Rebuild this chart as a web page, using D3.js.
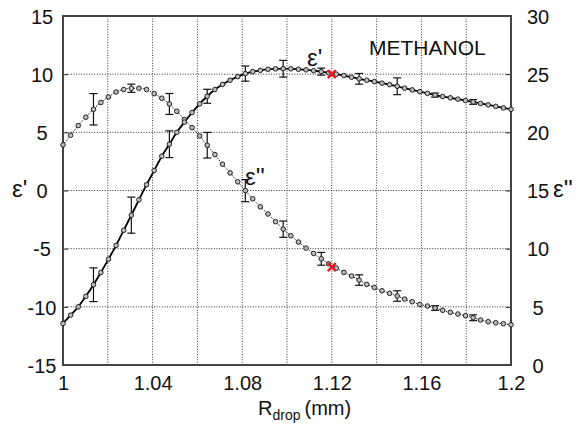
<!DOCTYPE html>
<html>
<head>
<meta charset="utf-8">
<script src="https://cdn.jsdelivr.net/npm/d3@7"></script>
<style>
  html, body { margin: 0; padding: 0; background: #fff; }
  svg { display: block; }
  text { font-family: "Liberation Sans", Arial, sans-serif; fill: #111; }
</style>
</head>
<body>
<svg id="chart" width="580" height="427"></svg>
<script>
// R_drop (mm), 60 puntos equiespaciados
const rDrop = [1.0000, 1.0034, 1.0068, 1.0102, 1.0136, 1.0169, 1.0203, 1.0237, 1.0271, 1.0305,
  1.0339, 1.0373, 1.0407, 1.0441, 1.0475, 1.0508, 1.0542, 1.0576, 1.0610, 1.0644,
  1.0678, 1.0712, 1.0746, 1.0780, 1.0814, 1.0847, 1.0881, 1.0915, 1.0949, 1.0983,
  1.1017, 1.1051, 1.1085, 1.1119, 1.1153, 1.1186, 1.1220, 1.1254, 1.1288, 1.1322,
  1.1356, 1.1390, 1.1424, 1.1458, 1.1492, 1.1525, 1.1559, 1.1593, 1.1627, 1.1661,
  1.1695, 1.1729, 1.1763, 1.1797, 1.1831, 1.1864, 1.1898, 1.1932, 1.1966, 1.2000];

// ε' (eje izquierdo)
const epsReal = [-11.43, -10.71, -10.0, -9.1, -8.1, -7.05, -5.9, -4.72, -3.42, -2.12,
  -0.8, 0.5, 1.72, 2.95, 3.98, 5.0, 5.88, 6.7, 7.45, 8.1,
  8.68, 9.12, 9.48, 9.79, 10.05, 10.22, 10.33, 10.42, 10.46, 10.47,
  10.46, 10.42, 10.37, 10.3, 10.22, 10.12, 10.0, 9.88, 9.74, 9.6,
  9.48, 9.36, 9.23, 9.1, 8.96, 8.8, 8.65, 8.5, 8.35, 8.2,
  8.08, 7.97, 7.85, 7.73, 7.61, 7.48, 7.36, 7.23, 7.1, 6.98];

// ε'' (eje derecho)
const epsImag = [18.92, 19.75, 20.58, 21.3, 21.98, 22.56, 23.04, 23.47, 23.68, 23.79,
  23.79, 23.68, 23.33, 22.93, 22.44, 21.81, 21.1, 20.41, 19.69, 18.89,
  18.09, 17.26, 16.51, 15.75, 14.99, 14.29, 13.6, 12.98, 12.32, 11.68,
  11.11, 10.57, 10.05, 9.59, 9.13, 8.7, 8.33, 7.96, 7.65, 7.3,
  6.93, 6.67, 6.38, 6.16, 5.93, 5.67, 5.44, 5.21, 5.07, 4.9,
  4.7, 4.53, 4.38, 4.24, 4.06, 3.87, 3.72, 3.63, 3.55, 3.46];

// barras de error: índice del punto y semiancho
const errIdx = [4, 9, 14, 19, 24, 29, 34, 39, 44, 49, 54];
const errReal = [1.45, 1.55, 1.15, 0.6, 0.65, 0.72, 0.3, 0.46, 0.72, 0.17, 0.2];
const errImag = [1.35, 0.35, 0.9, 1.1, 0.95, 0.7, 0.55, 0.45, 0.45, 0.2, 0.25];

// cruces rojas (R = 1.12)
const markR = [1.12];
const markReal = [10.0];
const markImag = [8.42];

const xTicks = [1, 1.04, 1.08, 1.12, 1.16, 1.2];
const xGrid = [1.02, 1.04, 1.06, 1.08, 1.1, 1.12, 1.14, 1.16, 1.18];
const yLeftTicks = [-15, -10, -5, 0, 5, 10, 15];
const yRightTicks = [0, 5, 10, 15, 20, 25, 30];

const W = 580, H = 427;
const M = { l: 63, r: 69, t: 16, b: 62 };
const svg = d3.select('#chart');

const x = d3.scaleLinear().domain([1, 1.2]).range([M.l, W - M.r]);
const yL = d3.scaleLinear().domain([-15, 15]).range([H - M.b, M.t]);
const yR = d3.scaleLinear().domain([0, 30]).range([H - M.b, M.t]);

// rejilla punteada
const grid = svg.append('g').attr('stroke', '#333').attr('stroke-width', 1).attr('stroke-dasharray', '1,1.6');
grid.selectAll('line.v').data(xGrid).join('line').attr('class', 'v')
  .attr('x1', d => x(d)).attr('x2', d => x(d)).attr('y1', M.t).attr('y2', H - M.b);
grid.selectAll('line.h').data(yLeftTicks.slice(1, -1)).join('line').attr('class', 'h')
  .attr('x1', M.l).attr('x2', W - M.r).attr('y1', d => yL(d)).attr('y2', d => yL(d));

// ejes con marcas hacia dentro
const axL = svg.append('g').attr('transform', `translate(${M.l},0)`)
  .call(d3.axisLeft(yL).tickValues(yLeftTicks).tickSizeInner(-5).tickSizeOuter(0));
const axR = svg.append('g').attr('transform', `translate(${W - M.r},0)`)
  .call(d3.axisRight(yR).tickValues(yRightTicks).tickSizeInner(-5).tickSizeOuter(0));
const axB = svg.append('g').attr('transform', `translate(0,${H - M.b})`)
  .call(d3.axisBottom(x).tickValues(xTicks).tickSizeInner(0).tickSizeOuter(0).tickFormat(d => String(d)));
[axL, axR, axB].forEach(a => {
  a.select('.domain').remove();
  a.selectAll('.tick line').attr('stroke', '#222').attr('stroke-width', 1);
  a.selectAll('.tick text').style('font-size', '20px').attr('fill', '#111')
    .text(function () { return this.textContent.replace('\u2212', '-'); });
});
axL.selectAll('.tick text').attr('x', -21).attr('text-anchor', 'middle').attr('dy', '0.36em');
axR.selectAll('.tick text').attr('x', 27).attr('text-anchor', 'middle').attr('dy', '0.36em');
axB.selectAll('.tick text').attr('y', 11).attr('dy', '0.71em');

// marco
svg.append('rect').attr('x', M.l).attr('y', M.t)
  .attr('width', W - M.l - M.r).attr('height', H - M.t - M.b)
  .attr('fill', 'none').attr('stroke', '#444').attr('stroke-width', 2);

// series
const ptsReal = rDrop.map((r, i) => [r, epsReal[i]]);
const ptsImag = rDrop.map((r, i) => [r, epsImag[i]]);
const lineL = d3.line().x(d => x(d[0])).y(d => yL(d[1])).curve(d3.curveMonotoneX);
const lineR = d3.line().x(d => x(d[0])).y(d => yR(d[1])).curve(d3.curveMonotoneX);

svg.append('path').datum(ptsImag).attr('d', lineR)
  .attr('fill', 'none').attr('stroke', '#111').attr('stroke-width', 1).attr('stroke-dasharray', '1.2,1.2');
svg.append('path').datum(ptsReal).attr('d', lineL)
  .attr('fill', 'none').attr('stroke', '#000').attr('stroke-width', 1.8);

// barras de error
function errBars(vals, errs, ys) {
  const g = svg.append('g').attr('stroke', '#111').attr('stroke-width', 1.2);
  errIdx.forEach((idx, k) => {
    const cx = x(rDrop[idx]), y0 = ys(vals[idx] - errs[k]), y1 = ys(vals[idx] + errs[k]);
    g.append('line').attr('x1', cx).attr('x2', cx).attr('y1', y0).attr('y2', y1);
    g.append('line').attr('x1', cx - 4).attr('x2', cx + 4).attr('y1', y0).attr('y2', y0);
    g.append('line').attr('x1', cx - 4).attr('x2', cx + 4).attr('y1', y1).attr('y2', y1);
  });
}
errBars(epsImag, errImag, yR);
errBars(epsReal, errReal, yL);

// marcadores
svg.append('g').selectAll('circle').data(ptsImag).join('circle')
  .attr('cx', d => x(d[0])).attr('cy', d => yR(d[1])).attr('r', 2.3)
  .attr('fill', '#bdbdbd').attr('stroke', '#222').attr('stroke-width', 1);
svg.append('g').selectAll('circle').data(ptsReal).join('circle')
  .attr('cx', d => x(d[0])).attr('cy', d => yL(d[1])).attr('r', 2.3)
  .attr('fill', '#bdbdbd').attr('stroke', '#222').attr('stroke-width', 1);

// cruces rojas
function cross(cx, cy) {
  const s = 4;
  svg.append('path').attr('d', `M${cx - s},${cy - s}L${cx + s},${cy + s}M${cx - s},${cy + s}L${cx + s},${cy - s}`)
    .attr('stroke', '#e8191e').attr('stroke-width', 2.4).attr('fill', 'none');
}
markR.forEach((r, i) => { cross(x(r), yL(markReal[i])); cross(x(r), yR(markImag[i])); });

// textos
const txt = (s, tx, ty, size, anchor) => svg.append('text').attr('x', tx).attr('y', ty)
  .attr('text-anchor', anchor || 'start').style('font-size', size + 'px').text(s);
txt("ε'", 12, 197, 24);
txt("ε''", 553, 197, 24);
txt("ε'", 307, 66, 24);
txt("ε''", 245, 185, 24);
txt('METHANOL', 369, 55, 21);

const xt = svg.append('text').attr('x', 258).attr('y', 415).style('font-size', '20px');
xt.append('tspan').text('R');
xt.append('tspan').attr('dy', 5).style('font-size', '14px').text('drop');
xt.append('tspan').attr('dy', -5).attr('dx', 4).text('(mm)');
</script>
</body>
</html>
